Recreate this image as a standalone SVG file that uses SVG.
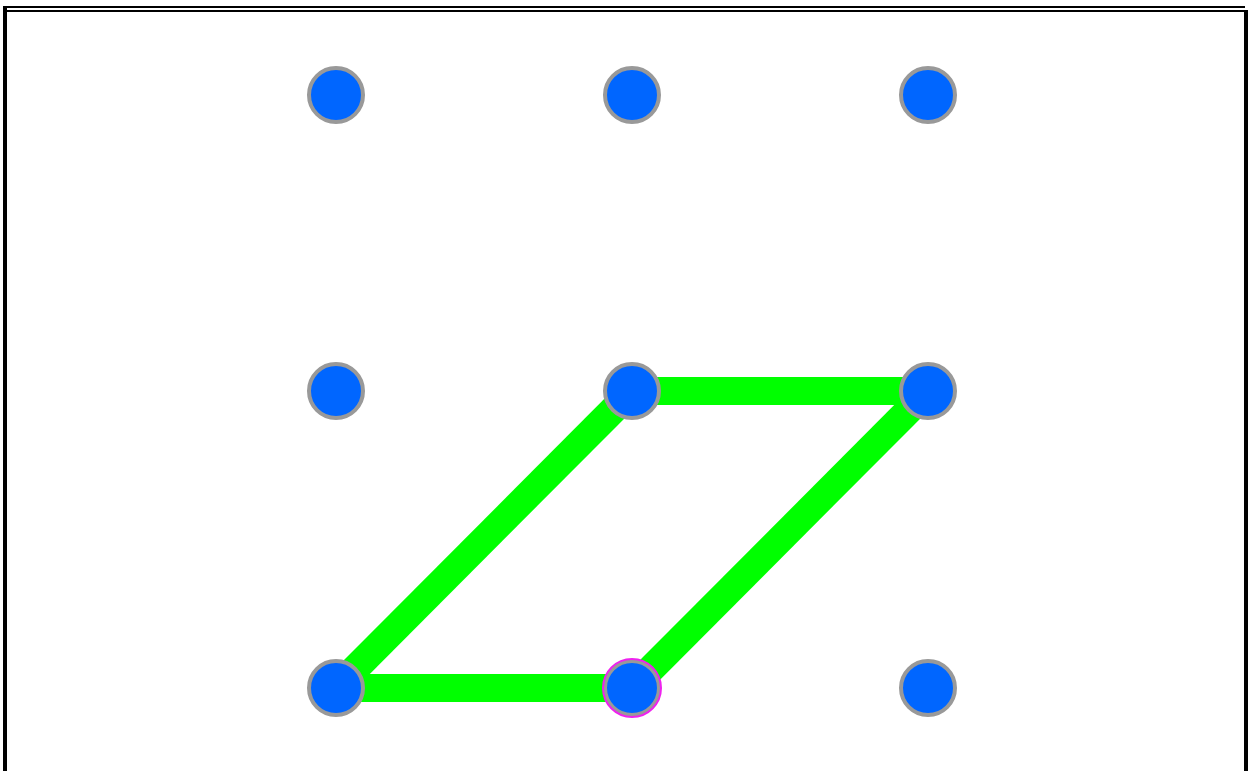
<svg xmlns="http://www.w3.org/2000/svg" width="1249" height="771" viewBox="0 0 1249 771">
<style>
.n{fill:#0066ff;stroke:#999999;stroke-width:4}
.sel{fill:none;stroke:#ee22ee;stroke-width:2}
.e{stroke:#00ff00;stroke-width:28;stroke-linecap:butt}
.b{fill:#000}
</style>
<rect width="1249" height="771" fill="#fff"/>
<g id="frame">
<rect class="b" x="3" y="6" width="1242" height="2"/>
<rect class="b" x="7" y="10" width="1237" height="2"/>
<rect class="b" x="3" y="6" width="4" height="765"/>
<rect class="b" x="1244" y="10" width="4" height="761"/>
</g>
<g id="connectors">
<line class="e" x1="632" y1="391" x2="928" y2="391"/>
<line class="e" x1="928" y1="391" x2="632" y2="688"/>
<line class="e" x1="632" y1="688" x2="336" y2="688"/>
<line class="e" x1="336" y1="688" x2="632" y2="391"/>
</g>
<g id="n1"><circle class="n" cx="336" cy="95" r="27"/></g>
<g id="n2"><circle class="n" cx="632" cy="95" r="27"/></g>
<g id="n3"><circle class="n" cx="928" cy="95" r="27"/></g>
<g id="n4"><circle class="n" cx="336" cy="391" r="27"/></g>
<g id="n5"><circle class="n" cx="632" cy="391" r="27"/></g>
<g id="n6"><circle class="n" cx="928" cy="391" r="27"/></g>
<g id="n7"><circle class="n" cx="336" cy="688" r="27"/></g>
<g id="n8"><circle class="n" cx="632" cy="688" r="27"/><circle class="sel" cx="632" cy="688" r="29"/></g>
<g id="n9"><circle class="n" cx="928" cy="688" r="27"/></g>
</svg>
